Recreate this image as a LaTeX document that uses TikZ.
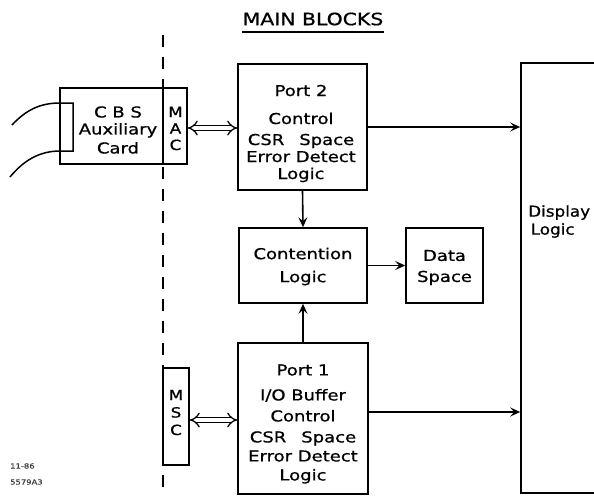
\documentclass[tikz,border=0pt]{standalone}
\usepackage{fontspec}
\setmainfont{DejaVu Sans}[FakeStretch=1.2, FakeBold=0.8]
\newfontfamily\dispfont{DejaVu Sans}[FakeStretch=1.12, FakeBold=0.8]
\usetikzlibrary{arrows.meta}
\begin{document}
\begin{tikzpicture}[x=1pt,y=-1pt,
  box/.style={draw, line width=1.6pt, fill=white, inner sep=0pt},
  lbl/.style={align=center, inner sep=0pt, font=\fontsize{15}{18}\selectfont},
  arr/.style={line width=1.6pt, -{Stealth[length=10pt,width=9pt,inset=4pt]}},
  dbl/.style={line width=1.3pt, double distance=3.8pt, {Implies[length=6pt]}-{Implies[length=6pt]}},
  dashline/.style={line width=1.6pt, dash pattern=on 12pt off 10pt}]
\useasboundingbox (0,0) rectangle (594,496);
\clip (0,0) rectangle (594,496);

% title
\node[inner sep=0pt, font=\fontsize{17}{20}\selectfont] (title) at (313,19) {MAIN BLOCKS};
\draw[line width=1.5pt] (242,32) -- (384,32);

% dashed separator
\draw[dashline] (163,35) -- (163,496);

% boxes
\node[box, minimum width=127pt, minimum height=76pt] (cbs) at (123.5,126) {};
\draw[line width=1.6pt] (cbs.north -| 163,0) -- (cbs.south -| 163,0);
\node[box, minimum width=129pt, minimum height=126pt] (port2) at (302.5,127) {};
\node[box, minimum width=128pt, minimum height=75pt] (cont) at (303,265.5) {};
\node[box, minimum width=77pt, minimum height=75pt] (data) at (444.5,265.5) {};
\node[box, minimum width=130pt, minimum height=151pt] (port1) at (303,418.5) {};
\node[box, minimum width=26pt, minimum height=97pt] (msc) at (176,416.5) {};
\node[box, minimum width=99pt, minimum height=430pt] (display) at (570.5,278) {};

% cable into CBS card
\draw[line width=1.5pt] (12,125) .. controls (26,110) and (40,103) .. (60,103) -- (73,103) -- (73,151) -- (60,151) .. controls (40,151) and (24,160) .. (10,177);

% labels
\node[lbl] (cbslbl) at (118,130) {C B S\\[-1pt]Auxiliary\\[1pt]Card};
\node[lbl, font=\fontsize{14}{16.5}\selectfont] (maclbl) at (175.5,128.5) {M\\A\\C};
\node[lbl, font=\fontsize{14}{17.5}\selectfont] (msclbl) at (176,412.5) {M\\S\\C};
\node[lbl, font=\fontsize{15}{17}\selectfont] (p2lbl) at (301,133.5) {Port 2\\[11pt]Control\\[4pt]CSR\quad Space\\Error Detect\\Logic};
\node[lbl] (contlbl) at (303,266.5) {Contention\\[5pt]Logic};
\node[lbl] (datalbl) at (444.5,267.5) {Data\\[3pt]Space};
\node[lbl, font=\fontsize{15}{19}\selectfont] (p1lbl) at (303,424) {Port 1\\[6pt]I/O Buffer\\[2pt]Control\\[2pt]CSR\quad Space\\Error Detect\\Logic};
\node[lbl, align=left, anchor=west, font=\dispfont\fontsize{15}{18}\selectfont] (displbl) at (528,221.5) {Display\\\,Logic};
\node[inner sep=0pt, anchor=west, align=left, text=black!75, font=\fontsize{7}{16}\selectfont] (foot) at (10,474) {11-86\\5579A3};

% connectors
\coordinate (y1) at (0,412);
\draw[arr] (port2.east) -- (port2.east -| display.west);
\draw[arr] (port1.east |- y1) -- (display.west |- y1);
\draw[arr] (port2.south) -- (cont.north);
\draw[arr] (port1.north) -- (cont.south);
\draw[arr] (cont.east) -- (data.west);
\draw[dbl] ([yshift=-2pt]cbs.east) -- ([yshift=-2pt]cbs.east -| port2.west);
\draw[dbl] ([yshift=-3.5pt]msc.east) -- ([yshift=-3.5pt]msc.east -| port1.west);
\end{tikzpicture}
\end{document}
